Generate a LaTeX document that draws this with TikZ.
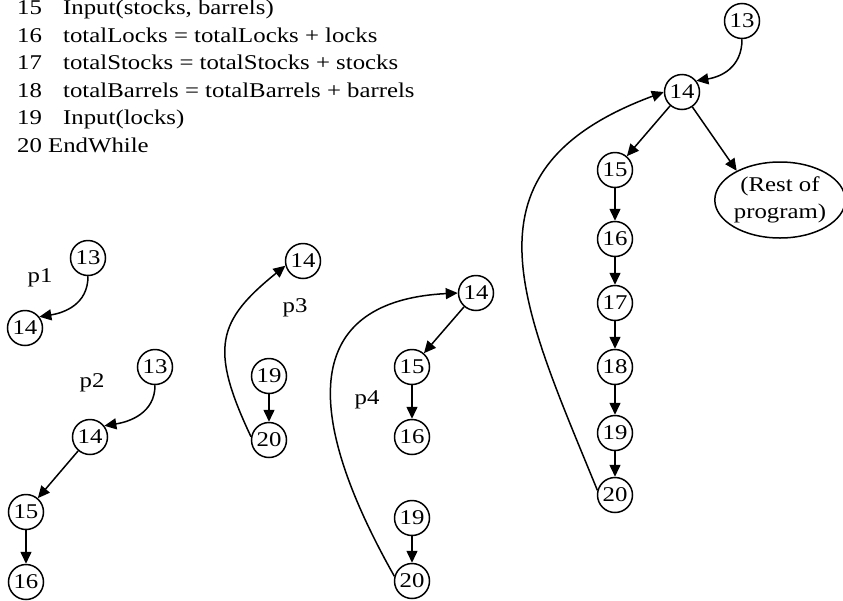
\documentclass[tikz,border=0pt]{standalone}
\usepackage{fontspec}
\setmainfont{Liberation Serif}[FakeStretch=1.18]
\usetikzlibrary{arrows.meta,shapes.geometric}
\begin{document}
\begin{tikzpicture}[x=1pt,y=-1pt,
  st/.style={circle,draw,line width=1.5pt,minimum size=35pt,inner sep=0pt,font=\fontsize{21}{24}\selectfont},
  lbl/.style={inner sep=0pt,font=\fontsize{21}{24}\selectfont},
  codeline/.style={anchor=base west,inner sep=0pt,font=\fontsize{21}{24}\selectfont},
  restbox/.style={ellipse,draw,line width=1.5pt,minimum width=124pt,minimum height=76pt,inner sep=0pt,align=center,font=\fontsize{21}{27}\selectfont},
  arr/.style={-{Triangle[length=12pt,width=11pt]},line width=1.5pt}
]
\useasboundingbox (0,0) rectangle (843,600);

% code listing
\node[codeline] (n15) at (17,14) {15};
\node[codeline] (t15) at (63,14) {Input(stocks, barrels)};
\node[codeline] (n16) at (17,42) {16};
\node[codeline] (t16) at (63,42) {totalLocks = totalLocks + locks};
\node[codeline] (n17) at (17,69.5) {17};
\node[codeline] (t17) at (63,69.5) {totalStocks = totalStocks + stocks};
\node[codeline] (n18) at (17,97) {18};
\node[codeline] (t18) at (63,97) {totalBarrels = totalBarrels + barrels};
\node[codeline] (n19) at (17,124.5) {19};
\node[codeline] (t19) at (63,124.5) {Input(locks)};
\node[codeline] (n20) at (17,152) {20};
\node[codeline] (t20) at (48,152) {EndWhile};

% p1
\node[lbl] (lp1) at (40,278) {p1};
\node[st] (a13) at (88,258) {13};
\node[st] (a14) at (25,328) {14};
\draw[arr] (a13.south) .. controls +(0,28) and +(25,-4) .. (a14.38);

% p2
\node[lbl] (lp2) at (92,383) {p2};
\node[st] (b13) at (155,367) {13};
\node[st] (b14) at (90,437) {14};
\node[st] (b15) at (26,512) {15};
\node[st] (b16) at (26,582) {16};
\draw[arr] (b13.south) .. controls +(0,28) and +(25,-4) .. (b14.38);
\draw[arr] (b14) -- (b15);
\draw[arr] (b15) -- (b16);

% p3
\node[lbl] (lp3) at (295,308) {p3};
\node[st] (c14) at (303,261) {14};
\node[st] (c19) at (269,376) {19};
\node[st] (c20) at (269,440) {20};
\draw[arr] (c19) -- (c20);
\draw[arr] (c20.170) .. controls +(-42,-89) and +(-68,55) .. (c14.195);

% p4
\node[lbl] (lp4) at (367,400) {p4};
\node[st] (d14) at (476,293) {14};
\node[st] (d15) at (412,367) {15};
\node[st] (d16) at (412,437) {16};
\node[st] (d19) at (412,518) {19};
\node[st] (d20) at (412,581) {20};
\draw[arr] (d14) -- (d15);
\draw[arr] (d15) -- (d16);
\draw[arr] (d19) -- (d20);
\draw[arr] (d20.165) .. controls +(-106,-188) and +(-138,7) .. (d14.west);

% full graph
\node[st] (r13) at (742,21) {13};
\node[st] (r14) at (682,92) {14};
\node[st] (r15) at (615,170) {15};
\node[st] (r16) at (615,239) {16};
\node[st] (r17) at (615,303) {17};
\node[st] (r18) at (615,367) {18};
\node[st] (r19) at (615,433) {19};
\node[st] (r20) at (615,495) {20};
\node[restbox] (rest) at (780,200) {(Rest of\\program)};
\draw[arr] (r13.south) .. controls +(0,28) and +(25,-4) .. (r14.38);
\draw[arr] (r14) -- (r15);
\draw[arr] (r14) -- (rest.146);
\draw[arr] (r15) -- (r16);
\draw[arr] (r16) -- (r17);
\draw[arr] (r17) -- (r18);
\draw[arr] (r18) -- (r19);
\draw[arr] (r19) -- (r20);
\draw[arr] (r20.165) .. controls +(-76,-186) and +(-210,78) .. (r14.west);
\end{tikzpicture}
\end{document}
